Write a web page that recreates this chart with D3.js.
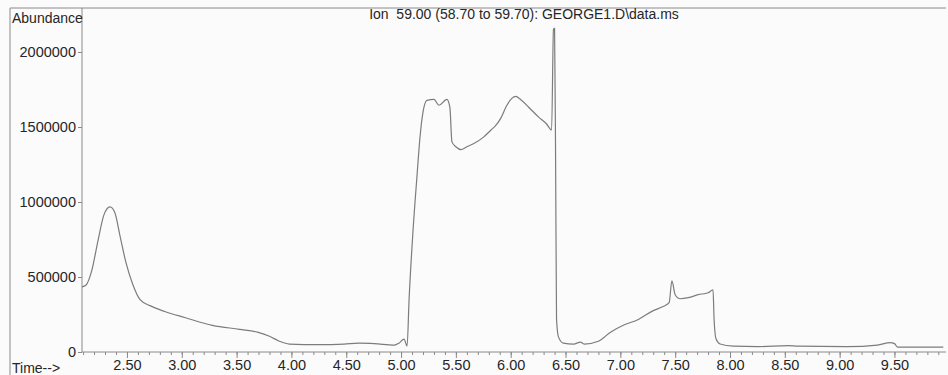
<!DOCTYPE html>
<html>
<head>
<meta charset="utf-8">
<script src="https://cdn.jsdelivr.net/npm/d3@7"></script>
<style>
body{margin:0;background:#fcfbfc;}
svg{display:block;font-family:"Liberation Sans",Arial,sans-serif;}
</style>
</head>
<body>
<svg id="chart"></svg>
<script>
var width=948, height=375;
var margin={left:82, top:8, right:2, bottom:23};

// chromatogram, ion 59.00 (time in min, abundance)
var times=[2.09,2.127,2.18,2.236,2.29,2.345,2.39,2.436,2.49,2.555,2.62,2.71,2.845,3.027,3.28,3.527,3.69,3.8,3.89,3.98,
  4.25,4.48,4.62,4.755,4.94,4.98,5.027,5.055,5.073,5.109,5.145,5.173,5.2,5.236,5.3,5.345,5.418,5.445,5.464,5.5,5.545,5.6,
  5.66,5.755,5.82,5.86,5.91,5.96,6.01,6.045,6.09,6.164,6.255,6.327,6.373,6.39,6.4,6.41,6.418,6.436,6.48,6.573,6.636,6.67,
  6.8,6.91,7.027,7.164,7.3,7.39,7.445,7.47,7.5,7.545,7.62,7.71,7.8,7.845,7.855,7.873,7.91,8.03,8.255,8.53,8.62,9.07,9.345,
  9.46,9.5,9.527,9.945];
var abundance=[434000,447000,546000,743000,914000,967000,928000,776000,599000,447000,349000,309000,270000,230000,178000,151000,132000,105000,72000,53000,
  49000,53000,59000,56000,46000,59000,86000,40000,349000,809000,1171000,1434000,1599000,1678000,1684000,1645000,1684000,1632000,1401000,1368000,1349000,1368000,
  1388000,1434000,1480000,1507000,1559000,1638000,1691000,1704000,1684000,1632000,1566000,1520000,1480000,2151000,2158000,1200000,217000,99000,59000,53000,66000,53000,
  72000,132000,178000,217000,276000,303000,329000,474000,382000,355000,362000,382000,395000,414000,217000,86000,53000,39000,36000,43000,39000,36000,46000,
  62000,56000,33000,33000];
var xTicks=[2.5,3.0,3.5,4.0,4.5,5.0,5.5,6.0,6.5,7.0,7.5,8.0,8.5,9.0,9.5];
var yTicks=[0,500000,1000000,1500000,2000000];
var title="Ion  59.00 (58.70 to 59.70): GEORGE1.D\\data.ms";

var data=times.map(function(t,i){return [t,abundance[i]];});

var svg=d3.select("#chart").attr("width",width).attr("height",height);

var x=d3.scaleLinear().domain([2.09,9.97]).range([margin.left,width-margin.right]);
var y=d3.scaleLinear().domain([0,2000000/ (352-52) * (352-8)]).range([height-margin.bottom,margin.top]);

var ink="#262626", frame="#8a8a8a";

// outer frame
svg.append("line").attr("x1",10).attr("x2",width-2).attr("y1",8).attr("y2",8)
  .attr("stroke",frame).attr("stroke-width",1);
svg.append("line").attr("x1",10).attr("x2",10).attr("y1",8).attr("y2",height)
  .attr("stroke",frame).attr("stroke-width",1);

// x axis: minor ticks every 0.1 min
var minor=d3.range(21,100).map(function(d){return d/10;});
var gx=svg.append("g").attr("transform","translate(0,"+(height-margin.bottom)+")");
gx.append("g").call(d3.axisBottom(x).tickValues(minor).tickSize(3).tickFormat(""))
  .call(function(g){g.select(".domain").remove();});
gx.append("g").call(d3.axisBottom(x).tickValues(xTicks).tickSize(6).tickPadding(2).tickFormat(d3.format(".2f")))
  .call(function(g){g.select(".domain").attr("d","M"+margin.left+",0H"+(width-2));});
gx.selectAll("line").attr("stroke",frame);
gx.selectAll(".domain").attr("stroke",frame);
gx.selectAll("text").attr("fill",ink).attr("font-size",14.5);

// y axis
var gy=svg.append("g").attr("transform","translate("+margin.left+",0)")
  .call(d3.axisLeft(y).tickValues(yTicks).tickSize(4).tickPadding(2).tickFormat(d3.format("d")));
gy.select(".domain").attr("d","M0,"+margin.top+"V"+(height-margin.bottom)).attr("stroke",frame);
gy.selectAll("line").attr("stroke",frame);
gy.selectAll("text").attr("fill",ink).attr("font-size",14.5);

// labels
svg.append("text").attr("x",12).attr("y",23).attr("font-size",14).attr("fill",ink).text("Abundance");
svg.append("text").attr("x",12).attr("y",373).attr("font-size",14).attr("fill",ink).text("Time-->");
svg.append("text").attr("x",524).attr("y",19).attr("text-anchor","middle").attr("font-size",14)
  .attr("fill",ink).style("white-space","pre").text(title);

// trace
svg.append("path")
  .datum(data)
  .attr("fill","none")
  .attr("stroke","#7c7c7c")
  .attr("stroke-width",1.2)
  .attr("d",d3.line()
    .curve(d3.curveMonotoneX)
    .x(function(d){return x(d[0]);})
    .y(function(d){return y(d[1]);}));
</script>
</body>
</html>
